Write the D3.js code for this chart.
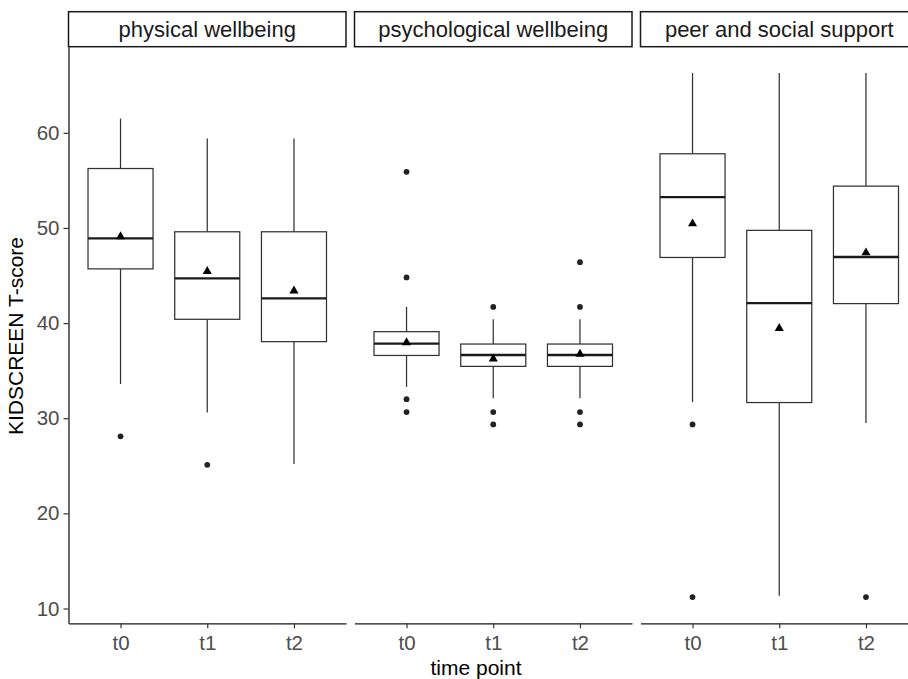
<!DOCTYPE html>
<html>
<head>
<meta charset="utf-8">
<script src="https://cdn.jsdelivr.net/npm/d3@7"></script>
<style>
  body { margin: 0; background: #fff; }
  svg { font-family: "Liberation Sans", Arial, sans-serif; display: block; }
</style>
</head>
<body>
<svg id="chart"></svg>
<script>
// Data
const panels = ["physical wellbeing", "psychological wellbeing", "peer and social support"];
const timePoints = ["t0", "t1", "t2"];

// one row per panel, one value per time point
const whiskerLow  = [[33.6, 30.6, 25.2], [33.3, 32.1, 32.1], [31.7, 11.35, 29.5]];
const q1          = [[45.7, 40.4, 38.05], [36.6, 35.45, 35.45], [46.9, 31.65, 42.05]];
const medians     = [[48.9, 44.7, 42.6], [37.85, 36.65, 36.65], [53.25, 42.1, 46.95]];
const q3          = [[56.25, 49.6, 49.6], [39.1, 37.8, 37.8], [57.8, 49.75, 54.4]];
const whiskerHigh = [[61.5, 59.4, 59.4], [41.7, 40.4, 40.4], [66.3, 66.3, 66.3]];
const means       = [[49.1, 45.45, 43.4], [37.95, 36.25, 36.75], [50.45, 39.45, 47.4]];
const outliers = [
  [[28.1], [25.1], []],
  [[55.9, 44.8, 32.0, 30.65], [41.7, 30.65, 29.35], [46.4, 41.7, 30.65, 29.35]],
  [[29.35, 11.2], [], [11.2]]
];
const yTicks = [10, 20, 30, 40, 50, 60];

const width = 908, height = 679;
const panelLeft = 68.5, panelW = 277.5, panelGap = 8.5;
const panelTop = 46.7, panelBottom = 623.3;
const stripH = 35;

const svg = d3.select("#chart").attr("width", width).attr("height", height);

// y range with ggplot-like 5% expansion around all values
const allVals = [].concat(whiskerLow.flat(), whiskerHigh.flat(), outliers.flat(2));
const [lo, hi] = d3.extent(allVals);
const pad = (hi - lo) * 0.05;
const y = d3.scaleLinear().domain([lo - pad, hi + pad]).range([panelBottom, panelTop]);

const x = d3.scalePoint().domain(timePoints).range([0, panelW]).padding(0.6);
const boxW = x.step() * 0.75;

panels.forEach((name, p) => {
  const g = svg.append("g")
    .attr("transform", `translate(${panelLeft + p * (panelW + panelGap)},0)`);

  // strip
  g.append("rect")
    .attr("x", 0).attr("y", panelTop - stripH)
    .attr("width", panelW).attr("height", stripH)
    .attr("fill", "#fff").attr("stroke", "#1a1a1a").attr("stroke-width", 1.5);
  g.append("text")
    .attr("x", panelW / 2).attr("y", panelTop - stripH / 2)
    .attr("dy", "0.35em").attr("text-anchor", "middle")
    .attr("font-size", 22).attr("fill", "#1a1a1a")
    .text(name);

  // x axis
  const xa = g.append("g")
    .attr("transform", `translate(0,${panelBottom})`)
    .call(d3.axisBottom(x).tickSize(5).tickSizeOuter(0).tickPadding(7));
  xa.select(".domain").attr("stroke", "#1a1a1a").attr("stroke-width", 1.3);
  xa.selectAll(".tick line").attr("stroke", "#333").attr("stroke-width", 1.2);
  xa.selectAll("text").attr("font-size", 20.5).attr("fill", "#4d4d4d").attr("font-family", "Liberation Sans, Arial, sans-serif");

  if (p === 0) {
    const ya = g.append("g")
      .call(d3.axisLeft(y).tickValues(yTicks).tickSize(5).tickSizeOuter(0).tickPadding(4));
    ya.select(".domain").attr("stroke", "#1a1a1a").attr("stroke-width", 1.3);
    ya.selectAll(".tick line").attr("stroke", "#333").attr("stroke-width", 1.2);
    ya.selectAll("text").attr("font-size", 20.5).attr("fill", "#4d4d4d").attr("font-family", "Liberation Sans, Arial, sans-serif");
  }

  const stats = timePoints.map((t, i) => ({
    t,
    lo: whiskerLow[p][i], q1: q1[p][i], med: medians[p][i],
    q3: q3[p][i], hi: whiskerHigh[p][i], mean: means[p][i],
    out: outliers[p][i]
  }));

  const b = g.selectAll(".box").data(stats).enter().append("g").attr("class", "box");

  // whiskers
  b.append("line")
    .attr("x1", d => x(d.t)).attr("x2", d => x(d.t))
    .attr("y1", d => y(d.q3)).attr("y2", d => y(d.hi))
    .attr("stroke", "#333").attr("stroke-width", 1.25);
  b.append("line")
    .attr("x1", d => x(d.t)).attr("x2", d => x(d.t))
    .attr("y1", d => y(d.q1)).attr("y2", d => y(d.lo))
    .attr("stroke", "#333").attr("stroke-width", 1.25);

  // box
  b.append("rect")
    .attr("x", d => x(d.t) - boxW / 2).attr("width", boxW)
    .attr("y", d => y(d.q3)).attr("height", d => y(d.q1) - y(d.q3))
    .attr("fill", "#fff").attr("stroke", "#333").attr("stroke-width", 1.25);

  // median
  b.append("line")
    .attr("x1", d => x(d.t) - boxW / 2).attr("x2", d => x(d.t) + boxW / 2)
    .attr("y1", d => y(d.med)).attr("y2", d => y(d.med))
    .attr("stroke", "#1a1a1a").attr("stroke-width", 2.3);

  // outliers
  b.selectAll(".out").data(d => d.out.map(v => ({ t: d.t, v }))).enter()
    .append("circle")
    .attr("cx", d => x(d.t)).attr("cy", d => y(d.v)).attr("r", 2.9)
    .attr("fill", "#222");

  // mean triangles
  b.append("path")
    .attr("d", d3.symbol().type(d3.symbolTriangle).size(36))
    .attr("transform", d => `translate(${x(d.t)},${y(d.mean)})`)
    .attr("fill", "#000");
});

// axis titles
svg.append("text")
  .attr("x", 476).attr("y", 668).attr("dy", "0.35em")
  .attr("text-anchor", "middle").attr("font-size", 21).attr("fill", "#000")
  .text("time point");

svg.append("text")
  .attr("transform", "translate(16,336) rotate(-90)")
  .attr("dy", "0.35em").attr("text-anchor", "middle")
  .attr("font-size", 21).attr("fill", "#000")
  .text("KIDSCREEN T-score");
</script>
</body>
</html>
